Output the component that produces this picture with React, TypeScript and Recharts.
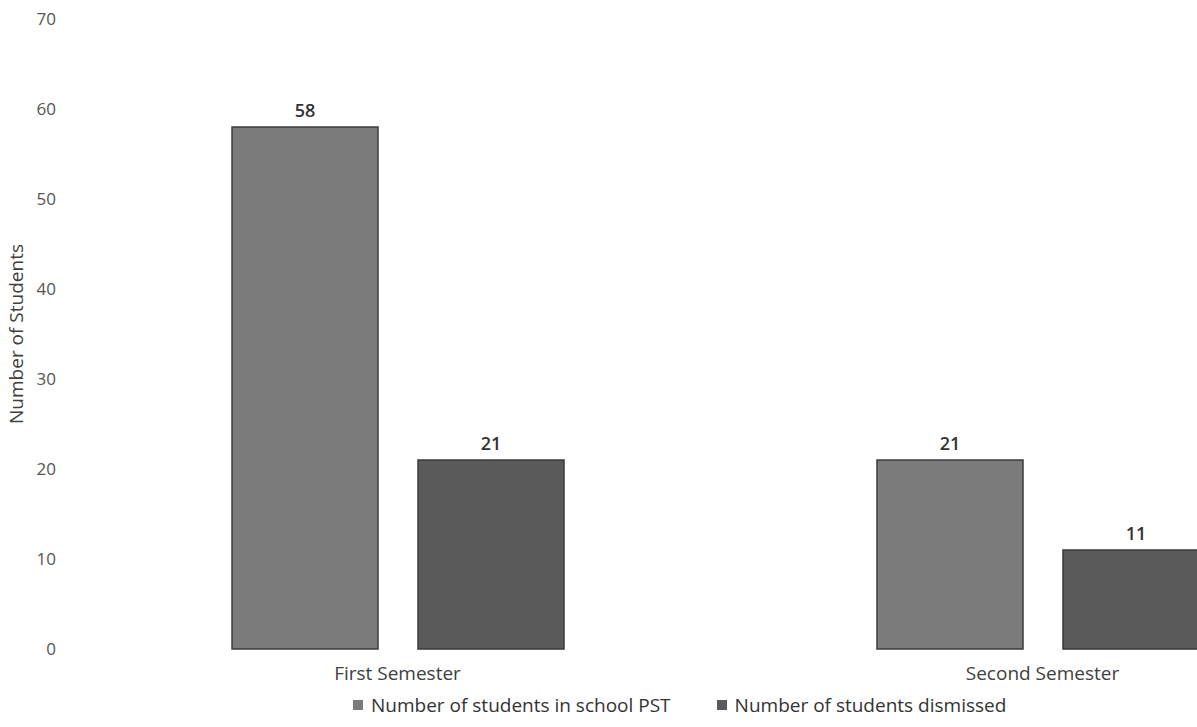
import { BarChart, Bar, XAxis, YAxis, Legend, LabelList } from "recharts";

const semesters = ["First Semester", "Second Semester"];
const inSchoolPst = [58, 21];
const dismissed = [21, 11];
const yTicks = [0, 10, 20, 30, 40, 50, 60, 70];

const seriesNames = {
    pst: "Number of students in school PST",
    dismissed: "Number of students dismissed",
};
const seriesColors = { pst: "#7b7b7b", dismissed: "#5a5a5a" };

const data = semesters.map((name, i) => ({
    name,
    pst: inSchoolPst[i],
    dismissed: dismissed[i],
}));

const FONT = "'Open Sans', 'Noto Sans', sans-serif";

const LegendContent = () => (
    <div
        style={{
            display: "flex",
            alignItems: "center",
            paddingTop: 13,
            fontFamily: FONT,
            fontSize: 19,
            color: "#333",
            whiteSpace: "nowrap",
        }}
    >
        {(["pst", "dismissed"] as const).map((key, i) => (
            <div
                key={key}
                style={{ display: "flex", alignItems: "center", marginRight: i === 0 ? 46 : 0 }}
            >
                <span
                    style={{
                        display: "inline-block",
                        width: 10,
                        height: 10,
                        background: seriesColors[key],
                        marginRight: 8,
                    }}
                />
                <span>{seriesNames[key]}</span>
            </div>
        ))}
    </div>
);

export default function App() {
    return (
        <div
            style={{
                position: "fixed",
                left: 0,
                top: 0,
                width: 1197,
                height: 727,
                overflow: "hidden",
                background: "#fff",
            }}
        >
            <BarChart
                width={1365}
                height={727}
                data={data}
                margin={{ top: 19, right: 0, left: 0, bottom: 8 }}
                barCategoryGap={157}
                barGap={40}
            >
                <XAxis
                    dataKey="name"
                    axisLine={false}
                    tickLine={false}
                    tickSize={0}
                    tickMargin={18}
                    height={30}
                    tick={{ fill: "#404040", fontSize: 19, fontFamily: FONT }}
                />
                <YAxis
                    domain={[0, 70]}
                    ticks={yTicks}
                    width={75}
                    axisLine={false}
                    tickLine={false}
                    tickSize={0}
                    tickMargin={19}
                    tick={{ fill: "#555", fontSize: 17, fontFamily: FONT }}
                    label={{
                        value: "Number of Students",
                        angle: -90,
                        position: "insideLeft",
                        offset: 16,
                        style: {
                            textAnchor: "middle",
                            fill: "#404040",
                            fontSize: 19,
                            fontFamily: FONT,
                        },
                    }}
                />
                <Legend
                    verticalAlign="bottom"
                    height={40}
                    content={<LegendContent />}
                    wrapperStyle={{ left: 353, width: 800, height: 40 }}
                />
                <Bar
                    dataKey="pst"
                    name={seriesNames.pst}
                    fill={seriesColors.pst}
                    stroke="#3c3c3c"
                    strokeWidth={1.5}
                    isAnimationActive={false}
                >
                    <LabelList
                        dataKey="pst"
                        position="top"
                        offset={10}
                        style={{ fill: "#333", fontSize: 18, fontWeight: 600, fontFamily: FONT }}
                    />
                </Bar>
                <Bar
                    dataKey="dismissed"
                    name={seriesNames.dismissed}
                    fill={seriesColors.dismissed}
                    stroke="#3a3a3a"
                    strokeWidth={1.5}
                    isAnimationActive={false}
                >
                    <LabelList
                        dataKey="dismissed"
                        position="top"
                        offset={10}
                        style={{ fill: "#333", fontSize: 18, fontWeight: 600, fontFamily: FONT }}
                    />
                </Bar>
            </BarChart>
        </div>
    );
}
